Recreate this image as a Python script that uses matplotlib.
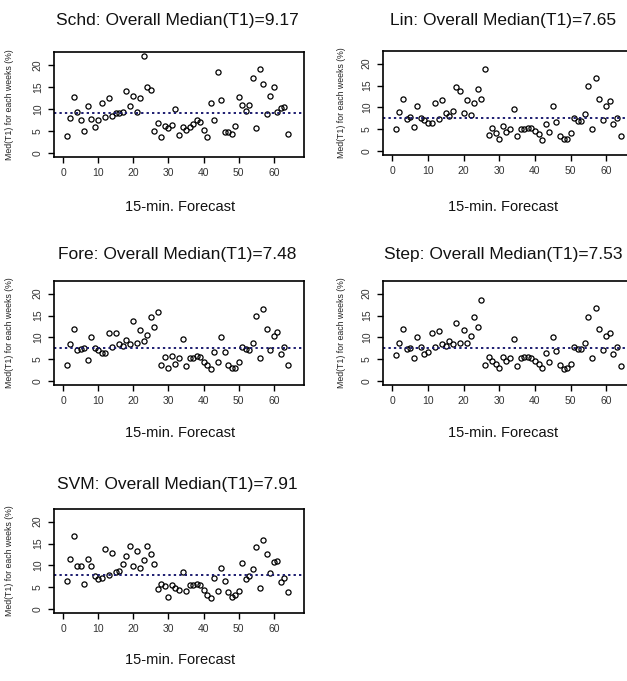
import numpy as np
import matplotlib
matplotlib.use('Agg')
import matplotlib.pyplot as plt

plt.rcParams['font.family'] = ['Liberation Sans', 'DejaVu Sans']

# forecast horizon index (15-min steps)
steps = np.arange(1, 65)

schd = [3.8, 8.0, 12.7, 9.4, 7.4, 5.0, 10.6, 7.7, 6.0, 7.4, 11.4, 8.1, 12.4, 8.3, 9.0, 9.1,
        9.3, 14.0, 10.7, 13.0, 9.2, 12.4, 22.0, 15.0, 14.3, 5.0, 6.9, 3.7, 6.1, 5.6, 6.3, 9.9,
        4.0, 6.0, 5.3, 6.0, 6.6, 7.5, 7.1, 5.3, 3.7, 11.4, 7.4, 18.3, 12.0, 4.7, 4.7, 4.4,
        6.1, 12.7, 10.9, 9.5, 10.9, 16.9, 5.7, 19.0, 15.6, 8.8, 13.0, 14.9, 9.4, 10.2, 10.4, 4.4]
lin = [5.1, 9.0, 12.0, 7.4, 7.8, 5.5, 10.4, 7.6, 7.1, 6.5, 6.5, 11.1, 7.4, 11.8, 8.8, 8.0,
       9.2, 14.7, 13.7, 8.8, 11.7, 8.3, 10.9, 14.3, 12.0, 18.7, 3.7, 5.3, 4.1, 2.8, 5.7, 4.4,
       5.1, 9.7, 3.5, 5.1, 5.1, 5.3, 5.3, 4.7, 3.8, 2.5, 6.3, 4.4, 10.2, 6.7, 3.4, 2.7,
       2.7, 4.2, 7.6, 6.9, 6.9, 8.4, 15.0, 5.1, 16.7, 12.0, 7.1, 10.3, 11.5, 6.1, 7.6, 3.5]
fore = [3.6, 8.5, 12.0, 7.2, 7.4, 7.6, 4.9, 10.0, 7.6, 7.0, 6.4, 6.4, 11.0, 7.9, 11.0, 8.4,
        8.1, 9.3, 8.5, 13.8, 8.8, 11.7, 9.1, 10.6, 14.7, 12.3, 15.7, 3.7, 5.4, 2.9, 5.7, 4.0,
        5.2, 9.7, 3.4, 5.2, 5.2, 5.7, 5.4, 4.4, 3.7, 2.8, 6.7, 4.4, 10.1, 6.7, 3.7, 2.9,
        2.9, 4.3, 7.8, 7.4, 7.2, 8.8, 15.0, 5.3, 16.6, 12.0, 7.2, 10.3, 11.3, 6.2, 7.8, 3.6]
step = [5.9, 8.7, 11.9, 7.4, 7.6, 5.3, 10.1, 7.7, 6.2, 6.6, 10.9, 7.9, 11.4, 8.4, 8.1, 9.1,
        8.5, 13.4, 8.8, 11.8, 8.8, 10.3, 14.7, 12.4, 18.6, 3.7, 5.4, 4.7, 4.0, 3.1, 5.4, 4.5,
        5.3, 9.7, 3.5, 5.3, 5.6, 5.6, 5.3, 4.7, 4.0, 3.1, 6.4, 4.4, 10.1, 6.8, 3.6, 2.7,
        3.1, 3.9, 7.8, 7.3, 7.3, 8.7, 14.7, 5.3, 16.8, 12.0, 7.2, 10.2, 11.0, 6.2, 7.8, 3.5]
svm = [6.5, 11.5, 16.8, 9.8, 9.8, 5.8, 11.5, 9.8, 7.5, 6.8, 7.2, 13.8, 7.8, 12.8, 8.5, 8.8,
       10.2, 12.2, 14.4, 9.8, 13.2, 9.5, 11.2, 14.4, 12.6, 10.2, 4.5, 5.8, 5.2, 2.8, 5.4, 4.8,
       4.4, 8.5, 4.2, 5.4, 5.5, 5.8, 5.4, 4.4, 3.2, 2.5, 7.2, 4.2, 9.5, 6.5, 3.8, 2.8,
       3.2, 4.2, 10.5, 6.8, 7.5, 9.2, 14.2, 4.8, 15.9, 12.5, 8.2, 10.7, 11.1, 6.2, 7.2, 3.8]

names = ['Schd', 'Lin', 'Fore', 'Step', 'SVM']
medians = [9.17, 7.65, 7.48, 7.53, 7.91]
series = [schd, lin, fore, step, svm]

W, H = 627, 681
fig = plt.figure(figsize=(W / 100, H / 100), dpi=100)

# panel boxes in pixels: left, top, right, bottom
boxes = [(54, 52, 304, 157), (383, 51, 637, 155),
         (54, 281, 304, 385), (383, 281, 637, 385),
         (54, 509, 304, 613)]
title_y = [20, 20, 255, 255, 485]
xlab_y = [207, 207, 433, 433, 660]
title_x = [177, 503, 177, 503, 177]
xlab_x = [180, 503, 180, 503, 180]
ylab_x = [10, 342, 10, 342, 10]


def fx(px):
    return px / W


def fy(py):
    return 1 - py / H


for i, (name, med, vals) in enumerate(zip(names, medians, series)):
    x0, y0, x1, y1 = boxes[i]
    ax = fig.add_axes([fx(x0), fy(y1), (x1 - x0) / W, (y1 - y0) / H])
    ax.plot(steps, vals, 'o', mfc='none', mec='black', ms=3.7, mew=0.9)
    ax.axhline(med, color='#1c1c70', lw=1.4, ls=(0, (1.2, 1.6)))
    ax.set_xlim(-2.6, 68.6)
    ax.set_ylim(-0.9, 22.9)
    ax.set_xticks([0, 10, 20, 30, 40, 50, 60])
    ax.set_yticks([0, 5, 10, 15, 20])
    ax.tick_params(direction='out', length=4, width=1, labelsize=7.5,
                   labelcolor='#333333', pad=4)
    for lab in ax.get_yticklabels():
        lab.set_rotation(90)
        lab.set_va('center')
    for s in ax.spines.values():
        s.set_linewidth(1.2)

    fig.text(fx(title_x[i]), fy(title_y[i]), f'{name}: Overall Median(T1)={med:.2f}',
             ha='center', va='center', fontsize=12.5, color='#111111')
    fig.text(fx(xlab_x[i]), fy(xlab_y[i]), '15-min. Forecast',
             ha='center', va='center', fontsize=10.5, color='#111111')
    fig.text(fx(ylab_x[i]), fy((y0 + y1) / 2), 'Med(T1) for each weeks (%)',
             ha='center', va='center', rotation=90, fontsize=6.3, color='#222222')

fig.savefig('out.png', dpi=100)
